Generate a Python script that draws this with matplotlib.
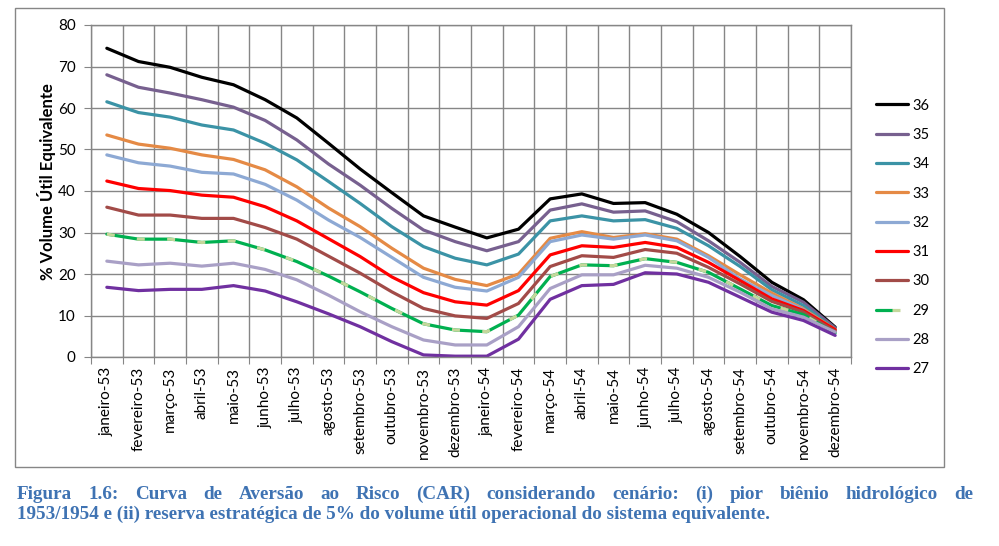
import matplotlib
matplotlib.use("Agg")
import matplotlib.pyplot as plt
from matplotlib.patches import Rectangle
from matplotlib.legend_handler import HandlerTuple

plt.rcParams['font.family'] = ['Lato', 'DejaVu Sans']

meses = ['janeiro-53', 'fevereiro-53', 'março-53', 'abril-53', 'maio-53', 'junho-53',
         'julho-53', 'agosto-53', 'setembro-53', 'outubro-53', 'novembro-53', 'dezembro-53',
         'janeiro-54', 'fevereiro-54', 'março-54', 'abril-54', 'maio-54', 'junho-54',
         'julho-54', 'agosto-54', 'setembro-54', 'outubro-54', 'novembro-54', 'dezembro-54']

s36 = [74.4, 71.2, 69.8, 67.4, 65.6, 62.0, 57.6, 51.5, 45.3, 39.6, 34.0, 31.3,
       28.7, 30.8, 38.1, 39.3, 37.0, 37.2, 34.4, 30.0, 24.2, 18.0, 13.8, 7.2]
s35 = [68.0, 65.0, 63.6, 62.0, 60.2, 57.0, 52.3, 46.5, 41.4, 35.8, 30.6, 27.8,
       25.6, 27.8, 35.4, 36.9, 34.9, 35.2, 32.6, 28.0, 22.8, 17.0, 13.2, 7.0]
s34 = [61.5, 58.9, 57.8, 55.9, 54.7, 51.5, 47.5, 42.3, 37.0, 31.4, 26.6, 23.8,
       22.2, 24.8, 32.8, 34.0, 32.8, 33.1, 31.0, 26.8, 21.8, 16.2, 12.4, 6.6]
s33 = [53.5, 51.3, 50.3, 48.7, 47.6, 45.1, 41.0, 35.9, 31.4, 26.2, 21.4, 18.7,
       17.2, 20.0, 28.6, 30.2, 28.8, 29.7, 28.4, 24.4, 19.8, 15.4, 11.6, 6.6]
s32 = [48.7, 46.8, 46.0, 44.5, 44.1, 41.6, 37.8, 33.0, 28.8, 24.0, 19.2, 16.8,
       15.9, 19.2, 27.8, 29.4, 28.4, 29.4, 28.0, 24.0, 18.8, 14.8, 11.4, 6.4]
s31 = [42.4, 40.6, 40.1, 39.0, 38.5, 36.2, 32.8, 28.5, 24.2, 19.3, 15.5, 13.3,
       12.5, 16.0, 24.6, 26.8, 26.4, 27.6, 26.4, 22.8, 18.4, 14.0, 11.2, 6.6]
s30 = [36.1, 34.2, 34.2, 33.4, 33.4, 31.2, 28.4, 24.3, 20.2, 15.7, 11.7, 9.9,
       9.3, 12.9, 21.8, 24.4, 24.0, 25.9, 25.0, 21.6, 17.6, 13.4, 10.8, 6.2]
s29 = [29.6, 28.4, 28.4, 27.6, 28.0, 25.8, 23.0, 19.5, 15.7, 11.7, 8.0, 6.5,
       6.1, 10.1, 19.4, 22.2, 22.0, 23.7, 22.8, 20.4, 16.4, 12.4, 10.2, 5.8]
s28 = [23.1, 22.2, 22.6, 21.9, 22.6, 21.1, 18.6, 14.9, 10.9, 7.3, 4.1, 2.9,
       2.9, 7.3, 16.5, 19.8, 19.8, 22.1, 21.4, 19.2, 15.6, 11.6, 9.6, 6.0]
s27 = [16.8, 16.0, 16.3, 16.3, 17.2, 15.9, 13.3, 10.4, 7.3, 3.7, 0.5, 0.2,
       0.2, 4.3, 13.9, 17.2, 17.5, 20.3, 20.0, 18.0, 14.4, 10.8, 8.8, 5.2]

nomes = ['36', '35', '34', '33', '32', '31', '30', '29', '28', '27']
series = [s36, s35, s34, s33, s32, s31, s30, s29, s28, s27]
cores = ['#000000', '#77608F', '#3B93A6', '#E58A45', '#8DA9D4', '#FF0000',
         '#A24B48', '#00B050', '#A9A0C6', '#7030A0']

fig = plt.figure(figsize=(9.99, 5.46), dpi=100)
ax = fig.add_axes([91/999, 1-357/546, (851-91)/999, (357-25)/546])

# moldura externa do gráfico
fig.patches.append(Rectangle((15/999, 1-467/546), (944-15)/999, (467-8)/546,
                             transform=fig.transFigure, fill=False,
                             edgecolor='#868686', linewidth=1))

x = list(range(len(meses)))
handles = []
for nome, ys, cor in zip(nomes, series, cores):
    ln, = ax.plot(x, ys, color=cor, linewidth=2.3, solid_capstyle='round')
    if nome == '29':
        dl, = ax.plot(x, ys, color='#C4D79B', linewidth=2.3, dashes=(2.5, 7))
        handles.append((ln, dl))
    else:
        handles.append(ln)

ax.set_xlim(-0.5, len(meses) - 0.5)
ax.set_ylim(0, 80)
ax.set_yticks(range(0, 81, 10))
ax.set_xticks([i - 0.5 for i in range(len(meses) + 1)])
ax.set_xticklabels([])
ax.set_xticks(x, minor=True)
ax.set_xticklabels(meses, minor=True, rotation=90, va='top', ha='center', fontsize=11)
ax.tick_params(axis='x', which='minor', length=0, pad=7)
ax.tick_params(axis='x', which='major', length=5, color='#868686')
ax.tick_params(axis='y', length=5, color='#868686', labelsize=11, pad=6)
ax.grid(True, which='major', color='#868686', linewidth=1)
ax.set_axisbelow(True)
for sp in ax.spines.values():
    sp.set_color('#868686')
    sp.set_linewidth(1)

fig.text(47/999, 1-182/546, '% Volume Útil Equivalente', rotation=90,
         ha='center', va='center', fontsize=12, fontweight='bold')

fig.legend(handles, nomes, loc='center left', bbox_to_anchor=(876/999, 1-237.5/546),
           frameon=False, fontsize=10.5, handlelength=2.2, handletextpad=0.3,
           labelspacing=1.05, borderpad=0, borderaxespad=0,
           handler_map={tuple: HandlerTuple(ndivide=None)})

# legenda da figura (texto justificado na primeira linha)
cor_leg = '#3F73B3'
linha1 = 'Figura 1.6: Curva de Aversão ao Risco (CAR) considerando cenário: (i) pior biênio hidrológico de'
linha2 = '1953/1954 e (ii) reserva estratégica de 5% do volume útil operacional do sistema equivalente.'
fprops = dict(family='Liberation Serif', fontweight='bold', fontsize=13.8, color=cor_leg)

renderer = fig.canvas.get_renderer()
palavras = linha1.split(' ')
larg = []
for p in palavras:
    t = fig.text(0, 0, p, **fprops)
    larg.append(t.get_window_extent(renderer).width)
    t.remove()
x0, x1 = 17, 973
esp = (x1 - x0 - sum(larg)) / (len(palavras) - 1)
xp = x0
for p, w in zip(palavras, larg):
    fig.text(xp/999, 1-499/546, p, ha='left', va='baseline', **fprops)
    xp += w + esp
fig.text(17/999, 1-519/546, linha2, ha='left', va='baseline', **fprops)

fig.savefig('out.png', dpi=100)
